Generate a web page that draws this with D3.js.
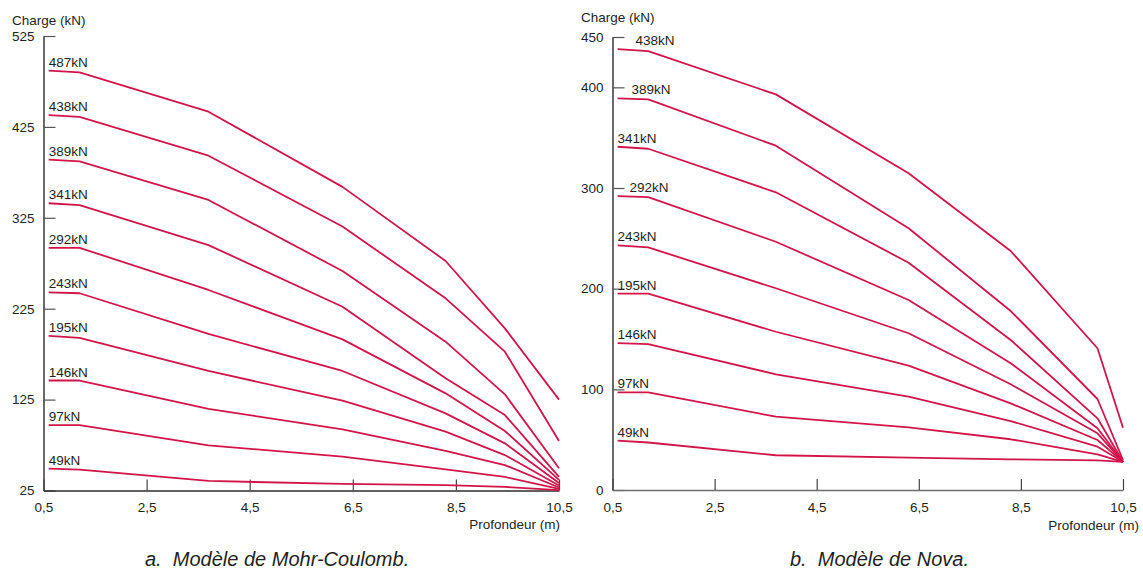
<!DOCTYPE html>
<html>
<head>
<meta charset="utf-8">
<script src="https://cdn.jsdelivr.net/npm/d3@7/dist/d3.min.js"></script>
<style>
  html, body { margin: 0; padding: 0; background: #fff; }
  svg text { font-family: "Liberation Sans", Arial, Helvetica, sans-serif; fill: #231f20; }
</style>
</head>
<body>
<svg id="chart" width="1143" height="569"></svg>
<script>
// Pile depths (m) at which the axial load was computed
const depthsMohrCoulomb = [0.6, 1.2, 3.7, 6.3, 8.3, 9.45, 10.5];
const depthsNova = [0.6, 1.2, 3.7, 6.3, 8.3, 10.0, 10.5];

// Head loads applied, one curve each
const headLoadsMohrCoulomb = [487, 438, 389, 341, 292, 243, 195, 146, 97, 49];
const headLoadsNova = [438, 389, 341, 292, 243, 195, 146, 97, 49];

// Axial load (kN) along the pile, Mohr-Coulomb model
const loadMohrCoulomb = [
  [487, 485, 441.7, 359, 277.5, 203.4, 125],
  [438, 436, 393.3, 315.4, 236.4, 177.7, 79.5],
  [389, 387, 344.6, 266.5, 188.7, 130.8, 49.4],
  [341, 339, 295, 227.2, 148.4, 108, 40],
  [292, 292, 245.6, 191.3, 131.9, 90.5, 36.6],
  [243, 242, 197.2, 156.5, 109.9, 76.9, 33.3],
  [195, 193, 156.5, 123.8, 89.7, 64, 30.5],
  [146, 146, 114.7, 92.3, 68.5, 53, 28.3],
  [97, 97, 74.7, 62.2, 48.3, 39.9, 26.7],
  [49, 48, 35.5, 32.2, 31, 28.9, 25.5]
];

// Axial load (kN) along the pile, Nova model
const loadNova = [
  [438, 436, 393, 314.6, 237.4, 140.8, 61.9],
  [389, 388, 342, 260, 177.8, 90.4, 29.8],
  [341, 339, 295.7, 225.8, 149, 71.2, 28],
  [292, 291, 246.6, 188.7, 125.9, 61.3, 28],
  [243, 241, 200.4, 155.7, 105, 56.3, 28],
  [195, 195, 157.2, 123.5, 86.1, 49.7, 28],
  [146, 145, 114.9, 92.7, 68.5, 43, 28],
  [97, 97, 72.8, 62.3, 50.4, 35.5, 28],
  [49, 47.2, 34.5, 32.1, 30.5, 29.5, 28]
];

// Axis ticks
const depthTicks = [0.5, 2.5, 4.5, 6.5, 8.5, 10.5];
const loadTicksMohrCoulomb = [25, 125, 225, 325, 425, 525];
const loadTicksNova = [0, 100, 200, 300, 400, 450];

const svg = d3.select("#chart");
const LINE = "#d2144b";
const comma = d => String(d).replace(".", ",");

function panel(opt) {
  const x = d3.scaleLinear().domain([0.5, 10.5]).range(opt.xRange);
  const y = d3.scaleLinear().domain(opt.yDomain).range(opt.yRange);
  const g = svg.append("g");

  // y axis, ticks pointing into the plot
  const ya = g.append("g")
    .attr("transform", `translate(${opt.xRange[0]},0)`)
    .call(d3.axisLeft(y).tickValues(opt.yTicks).tickFormat(comma)
      .tickSizeInner(-12).tickSizeOuter(0).tickPadding(9));
  ya.select(".domain").attr("stroke", "#2b2b2b").attr("stroke-width", 1.4);
  ya.selectAll(".tick line").attr("stroke", "#555").attr("stroke-width", 1.2);
  ya.selectAll("text").style("font-size", "13.5px").attr("fill", "#231f20");

  // x axis, ticks pointing up
  const xa = g.append("g")
    .attr("transform", `translate(0,${opt.yRange[0]})`)
    .call(d3.axisBottom(x).tickValues(depthTicks).tickFormat(comma)
      .tickSizeInner(-11).tickSizeOuter(0).tickPadding(12));
  xa.select(".domain").attr("stroke", opt.xAxisColor).attr("stroke-width", 1.4);
  xa.selectAll(".tick line").attr("stroke", "#444").attr("stroke-width", 1.2);
  xa.selectAll("text").style("font-size", "13.5px").attr("fill", "#231f20");

  // axis titles
  g.append("text").attr("x", opt.yTitle[0]).attr("y", opt.yTitle[1])
    .style("font-size", "13.5px").text("Charge (kN)");
  g.append("text").attr("x", opt.xTitle[0]).attr("y", opt.xTitle[1])
    .attr("text-anchor", "end").style("font-size", "13.5px").text("Profondeur (m)");

  // load-transfer curves
  const line = d3.line()
    .x((d, i) => x(opt.depths[i]))
    .y(d => y(d));
  g.append("g").selectAll("path")
    .data(opt.values)
    .join("path")
    .attr("d", line)
    .attr("fill", "none")
    .attr("stroke", LINE)
    .attr("stroke-width", 1.8)
    .attr("stroke-linejoin", "round");

  // head-load labels above each curve
  g.append("g").selectAll("text")
    .data(opt.values)
    .join("text")
    .attr("x", (d, i) => x(opt.depths[0]) + (opt.labelNudge[opt.heads[i]] || 0))
    .attr("y", d => y(d[0]) - 4)
    .style("font-size", "13.5px")
    .text((d, i) => opt.heads[i] + "kN");

  // caption
  g.append("text").attr("x", opt.caption[0]).attr("y", opt.caption[1])
    .style("font-size", "20px").style("font-style", "italic")
    .attr("xml:space", "preserve")
    .text(opt.captionText);
}

panel({
  xRange: [43.5, 559],
  yDomain: [25, 525],
  yRange: [490.5, 36],
  yTicks: loadTicksMohrCoulomb,
  depths: depthsMohrCoulomb,
  values: loadMohrCoulomb,
  heads: headLoadsMohrCoulomb,
  labelNudge: {},
  xAxisColor: "#2b2b2b",
  yTitle: [12, 24.5],
  xTitle: [560, 529],
  caption: [145, 566],
  captionText: "a.  Modèle de Mohr-Coulomb."
});

panel({
  xRange: [612.5, 1123],
  yDomain: [0, 450],
  yRange: [490, 37],
  yTicks: loadTicksNova,
  depths: depthsNova,
  values: loadNova,
  heads: headLoadsNova,
  labelNudge: { 438: 18, 389: 14, 292: 12 },
  xAxisColor: "#6e6e6e",
  yTitle: [581, 22],
  xTitle: [1139, 530],
  caption: [790, 566],
  captionText: "b.  Modèle de Nova."
});
</script>
</body>
</html>
